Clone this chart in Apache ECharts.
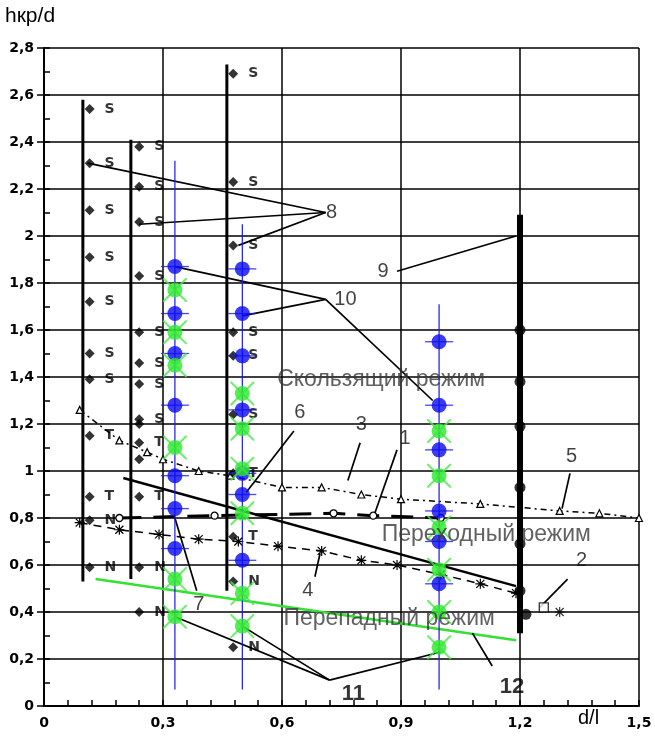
<!DOCTYPE html>
<html><head><meta charset="utf-8">
<script src="https://cdn.jsdelivr.net/npm/echarts@6/dist/echarts.min.js"></script>
<style>html,body{margin:0;padding:0;background:#fff}#c{width:655px;height:738px}</style>
</head><body><div id="c"></div>
<script>
// ---- data ----
const xMin = 0, xMax = 1.5, xStep = 0.3;
const yMin = 0, yMax = 2.8, yStep = 0.2;

// black experiment points with regime letters
const col1X = 0.115;
const col1Y = [2.54, 2.31, 2.11, 1.91, 1.72, 1.50, 1.39, 1.15, 0.89, 0.79, 0.59];
const col1L = ['S', 'S', 'S', 'S', 'S', 'S', 'S', 'T', 'T', 'N', 'N'];
const col2X = 0.24;
const col2Y = [2.38, 2.21, 2.06, 1.83, 1.59, 1.46, 1.37, 1.22, 1.20, 1.12, 1.05, 0.89, 0.59, 0.40];
const col2L = ['S', 'S', 'S', 'S', 'S', 'S', 'S', 'S', '', 'T', '', 'T', 'N', 'N'];
const col3X = 0.477;
const col3Y = [2.69, 2.23, 1.96, 1.59, 1.49, 1.24, 0.99, 0.72, 0.53, 0.25];
const col3L = ['S', 'S', 'S', 'S', 'S', 'S', 'T', 'T', 'N', 'N'];
const col4X = [1.2, 1.2, 1.2, 1.2, 1.2, 1.2, 1.215];
const col4Y = [1.60, 1.38, 1.19, 0.93, 0.69, 0.49, 0.39];

// vertical range bars (x, yBottom, yTop)
const barX = [0.098, 0.219, 0.461];
const barLo = [0.53, 0.54, 0.49];
const barHi = [2.58, 2.41, 2.73];
const bigBarX = 1.2, bigBarLo = 0.31, bigBarHi = 2.09;

// new experiments (blue / green)
const expX = [0.33, 0.50, 0.996];
const expLo = [0.07, 0.07, 0.07];
const expHi = [2.32, 2.05, 1.71];
const blueA = [1.87, 1.67, 1.50, 1.28, 0.98, 0.84, 0.67];
const greenA = [1.77, 1.59, 1.45, 1.10, 0.54, 0.38];
const blueB = [1.86, 1.67, 1.49, 1.26, 0.99, 0.90, 0.62];
const greenB = [1.33, 1.18, 1.01, 0.82, 0.48, 0.34];
const blueC = [1.55, 1.28, 1.09, 0.83, 0.70, 0.52];
const greenC = [1.17, 0.98, 0.76, 0.58, 0.40, 0.25];

// curves
const c1X = [0.19, 0.43, 0.73, 0.83, 1.0];
const c1Y = [0.80, 0.81, 0.82, 0.81, 0.80];
const c5X = [0.09, 0.19, 0.26, 0.30, 0.39, 0.47, 0.60, 0.70, 0.80, 0.90, 1.10, 1.30, 1.40, 1.50];
const c5Y = [1.26, 1.13, 1.08, 1.05, 1.00, 0.98, 0.93, 0.93, 0.90, 0.88, 0.86, 0.83, 0.82, 0.80];
const c4X = [0.09, 0.19, 0.29, 0.39, 0.49, 0.59, 0.70, 0.80, 0.89, 1.00, 1.10, 1.19];
const c4Y = [0.78, 0.75, 0.73, 0.71, 0.70, 0.68, 0.66, 0.62, 0.60, 0.56, 0.52, 0.48];
const c2X = [1.26, 1.30];
const c2Y = [0.42, 0.40];
const solidX = [0.20, 1.19];
const solidY = [0.97, 0.51];
const greenLineX = [0.13, 1.19];
const greenLineY = [0.54, 0.28];

// leader lines [x1,y1,x2,y2]
const leaders = [
  [0.11, 2.31, 0.71, 2.10], [0.24, 2.05, 0.71, 2.10], [0.49, 1.96, 0.71, 2.10],
  [0.89, 1.85, 1.19, 2.00],
  [0.33, 1.87, 0.71, 1.73], [0.50, 1.66, 0.71, 1.73], [0.71, 1.73, 0.98, 1.30],
  [0.33, 0.38, 0.72, 0.11], [0.50, 0.34, 0.72, 0.11], [0.72, 0.11, 1.0, 0.23],
  [1.08, 0.31, 1.13, 0.17],
  [1.32, 0.54, 1.25, 0.42],
  [0.797, 1.12, 0.766, 0.96],
  [0.89, 1.09, 0.834, 0.82],
  [1.326, 0.99, 1.306, 0.84],
  [0.696, 0.65, 0.683, 0.55],
  [0.63, 1.17, 0.51, 0.91],
  [0.33, 0.80, 0.385, 0.49]
];
// numbered labels
const numText = ['1', '2', '3', '4', '5', '6', '7', '8', '9', '10'];
const numX = [0.91, 1.355, 0.80, 0.665, 1.33, 0.645, 0.39, 0.725, 0.855, 0.76];
const numY = [1.14, 0.62, 1.20, 0.49, 1.06, 1.25, 0.43, 2.10, 1.85, 1.73];
const bigNumText = ['11', '12'];
const bigNumX = [0.78, 1.18];
const bigNumY = [0.05, 0.08];
// regime captions
const regText = ['Скользящий режим', 'Переходный режим', 'Перепадный режим'];
const regX = [0.85, 1.115, 0.87];
const regY = [1.39, 0.73, 0.37];

// ---- chart ----
const fmt = v => Math.abs(v) < 1e-9 ? '0' : String(+v.toFixed(1)).replace('.', ',');
const zip = (xs, ys) => xs.map((x, i) => [x, ys[i]]);
const S = [];
function line(data, style, extra) {
  S.push(Object.assign({type: 'line', data: data, symbol: 'none', lineStyle: style, silent: true, z: 3}, extra || {}));
}
// range bars
barX.forEach((x, i) => line([[x, barLo[i]], [x, barHi[i]]], {color: '#000', width: 3}));
line([[bigBarX, bigBarLo], [bigBarX, bigBarHi]], {color: '#000', width: 6});
// curves
line(zip(c5X, c5Y), {color: '#000', width: 1.5, type: [6, 4, 2, 4]}, {symbol: 'triangle', symbolSize: 7, itemStyle: {color: '#fff', borderColor: '#000', borderWidth: 1.2}, showSymbol: true});
line(zip(c4X, c4Y), {color: '#000', width: 1.5, type: [8, 6]}, {symbol: 'path://M5,0V10M0,5H10M1,1L9,9M9,1L1,9', symbolSize: 10, itemStyle: {color: '#000', borderColor: '#000', borderWidth: 1.2}});
line(zip(c1X, c1Y), {color: '#000', width: 3, type: [22, 12]}, {symbol: 'circle', symbolSize: 7, itemStyle: {color: '#fff', borderColor: '#000', borderWidth: 1.3}});
line(zip(solidX, solidY), {color: '#000', width: 2.5});
line(zip(greenLineX, greenLineY), {color: '#33e033', width: 2.5});
S.push({type: 'scatter', data: [[c2X[0], c2Y[0]]], symbol: 'rect', symbolSize: 9, itemStyle: {color: '#fff', borderColor: '#000', borderWidth: 1.3}, z: 4});
S.push({type: 'scatter', data: [[c2X[1], c2Y[1]]], symbol: 'path://M5,0V10M0,5H10M1,1L9,9M9,1L1,9', symbolSize: 10, itemStyle: {color: '#000', borderColor: '#000', borderWidth: 1.2}, z: 4});
// leaders
leaders.forEach(l => line([[l[0], l[1]], [l[2], l[3]]], {color: '#000', width: 1.7}));
// black points
function dots(xs, ys, ls) {
  S.push({type: 'scatter', data: ys.map((y, i) => [Array.isArray(xs) ? xs[i] : xs, y, ls ? ls[i] : '']),
    symbol: 'diamond', symbolSize: 10, itemStyle: {color: '#000'}, z: 5,
    label: {show: !!ls, position: 'right', distance: 10, formatter: p => p.value[2], color: '#000', fontSize: 14, fontWeight: 'bold', fontFamily: 'DejaVu Sans'}});
}
dots(col1X, col1Y, col1L);
dots(col2X, col2Y, col2L);
dots(col3X, col3Y, col3L);
S.push({type: 'scatter', data: zip(col4X, col4Y), symbol: 'circle', symbolSize: 11, itemStyle: {color: '#000'}, z: 5});
// blue/green experiments
expX.forEach((x, i) => line([[x, expLo[i]], [x, expHi[i]]], {color: '#1a1ae0', width: 1.2}, {z: 6}));
const blues = [blueA, blueB, blueC], greens = [greenA, greenB, greenC];
expX.forEach((x, i) => {
  const b = blues[i].map(y => [x, y]);
  const g = greens[i].map(y => [x, y]);
  S.push({type: 'scatter', data: b, symbol: 'rect', symbolSize: [28, 1.3], itemStyle: {color: '#1a1ae0'}, z: 7, silent: true});
  S.push({type: 'scatter', data: b, symbol: 'circle', symbolSize: 15, itemStyle: {color: '#0a0af0'}, z: 8, silent: true});
  S.push({type: 'scatter', data: g, symbol: 'path://M0,0L1.2,0L20,18.8L20,20L18.8,20L0,1.2Z M20,0L20,1.2L1.2,20L0,20L0,18.8L18.8,0Z', symbolSize: 24, itemStyle: {color: '#4be84b'}, z: 9, silent: true});
  S.push({type: 'scatter', data: g, symbol: 'circle', symbolSize: 15, itemStyle: {color: '#2ee82e'}, z: 10, silent: true});
});
// numbered labels
S.push({type: 'scatter', data: numX.map((x, i) => [x, numY[i], numText[i]]), symbolSize: 0, z: 12, silent: true,
  label: {show: true, position: 'inside', formatter: p => p.value[2], color: '#111', fontFamily: 'Liberation Sans', fontSize: 20}});
S.push({type: 'scatter', data: bigNumX.map((x, i) => [x, bigNumY[i], bigNumText[i]]), symbolSize: 0, z: 12, silent: true,
  label: {show: true, position: 'inside', formatter: p => p.value[2], color: '#000', fontFamily: 'Liberation Sans', fontWeight: 'bold', fontSize: 22}});
// regime captions
S.push({type: 'scatter', data: regX.map((x, i) => [x, regY[i], regText[i]]), symbolSize: 0, z: 12, silent: true,
  label: {show: true, position: 'inside', formatter: p => p.value[2], color: '#3a3a3a', fontFamily: 'Liberation Sans', fontSize: 23}});

const chart = echarts.init(document.getElementById('c'), null, {renderer: 'canvas'});
chart.setOption({
  animation: false,
  backgroundColor: '#fff',
  grid: {left: 44, right: 16, top: 48, bottom: 32},
  xAxis: {type: 'value', min: xMin, max: xMax, interval: xStep,
    axisLine: {lineStyle: {color: '#000', width: 2}},
    axisTick: {show: true, inside: true, length: 6, lineStyle: {color: '#000', width: 1.5}},
    minorTick: {show: true, splitNumber: 5, length: 6, lineStyle: {color: '#000', width: 1.5}},
    splitLine: {show: true, lineStyle: {color: '#000', width: 1.5}},
    axisLabel: {formatter: fmt, color: '#000', fontSize: 14, fontWeight: 'bold', fontFamily: 'DejaVu Sans', margin: 10}},
  yAxis: [{type: 'value', min: yMin, max: yMax, interval: yStep,
    axisLine: {show: true, lineStyle: {color: '#000', width: 2}},
    axisTick: {show: true, inside: true, length: 6, lineStyle: {color: '#000', width: 1.5}},
    minorTick: {show: true, splitNumber: 2, length: 6, lineStyle: {color: '#000', width: 1.5}},
    splitLine: {show: true, lineStyle: {color: '#000', width: 1.5}},
    axisLabel: {formatter: fmt, color: '#000', fontSize: 14, fontWeight: 'bold', fontFamily: 'DejaVu Sans', margin: 10}},
    {type: 'value', min: yMin, max: yMax, interval: yStep, position: 'left',
    axisLine: {show: false}, axisLabel: {show: false}, splitLine: {show: false},
    axisTick: {show: true, inside: false, length: 7, lineStyle: {color: '#000', width: 1.5}}}],
  graphic: [
    {type: 'text', left: 5, top: 6, style: {text: 'hкр/d', fontSize: 21, fontFamily: 'Liberation Sans', fill: '#000'}},
    {type: 'text', left: 578, top: 708, style: {text: 'd/l', fontSize: 20, fontFamily: 'Liberation Sans', fill: '#000'}}
  ],
  series: S
});
</script></body></html>
